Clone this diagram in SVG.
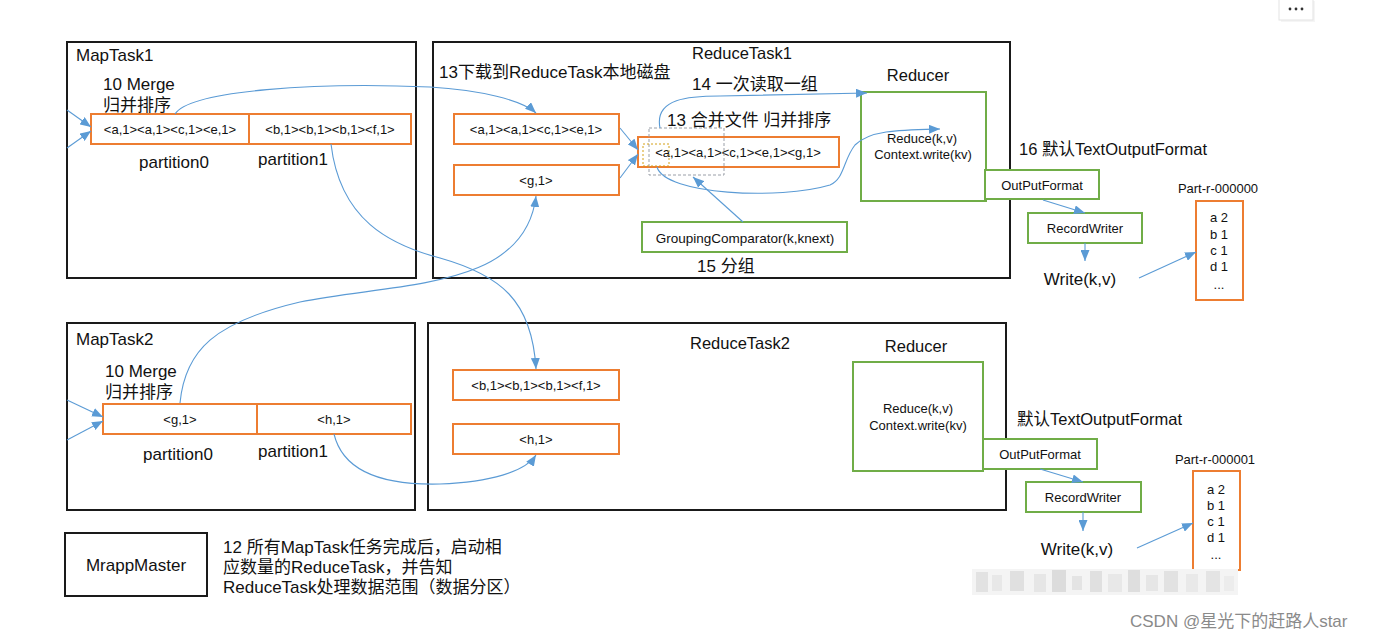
<svg xmlns="http://www.w3.org/2000/svg" width="1390" height="640" viewBox="0 0 1390 640">
<style>
.frame{fill:#fff;stroke:#1a1a1a;stroke-width:2}
.ob{fill:#fff;stroke:#ED7D31;stroke-width:2}
.gb{fill:#fff;stroke:#70AD47;stroke-width:2}
.ln{fill:none;stroke:#5B9BD5;stroke-width:1.1}
.t{font-family:"Liberation Sans","Noto Sans CJK SC",sans-serif;fill:#111}
.big{font-size:17px}
.mid{font-size:16.5px}
.sm{font-size:13px}
.c{text-anchor:middle}
</style>
<defs>
<marker id="ah" markerWidth="11" markerHeight="9" refX="11" refY="4.5" orient="auto" markerUnits="userSpaceOnUse"><path d="M0,0 L11,4.5 L0,9 z" fill="#5B9BD5"/></marker>
</defs>
<rect width="1390" height="640" fill="#fff"/>

<!-- top-right button -->
<g id="menu-button">
<rect x="1281" y="1" width="34" height="21" fill="#eee" opacity="0.6"/>
<rect x="1279" y="-1" width="34" height="21" fill="#fff" stroke="#e3e3e3"/>
<circle cx="1290" cy="9" r="1.4" fill="#333"/><circle cx="1296" cy="9" r="1.4" fill="#333"/><circle cx="1302" cy="9" r="1.4" fill="#333"/>
</g>

<!-- MapTask1 -->
<g id="maptask1">
<rect class="frame" x="67" y="42" width="349" height="236"/>
<text class="t big" x="76" y="61">MapTask1</text>
<text class="t big" x="103" y="90">10 Merge</text>
<text class="t big" x="103" y="111">归并排序</text>
<rect class="ob" x="91" y="114" width="158" height="30"/>
<rect class="ob" x="249" y="114" width="162" height="30"/>
<text class="t sm c" x="170" y="134">&lt;a,1&gt;&lt;a,1&gt;&lt;c,1&gt;&lt;e,1&gt;</text>
<text class="t sm c" x="330" y="134">&lt;b,1&gt;&lt;b,1&gt;&lt;b,1&gt;&lt;f,1&gt;</text>
<text class="t big" x="139" y="168">partition0</text>
<text class="t big" x="258" y="165">partition1</text>
</g>

<!-- ReduceTask1 -->
<g id="reducetask1">
<rect class="frame" x="433" y="42" width="577" height="236"/>
<text class="t mid c" x="742" y="59">ReduceTask1</text>
<text class="t big" x="439" y="78">13下载到ReduceTask本地磁盘</text>
<text class="t big" x="692" y="90">14 一次读取一组</text>
<text class="t big" x="667" y="126">13 合并文件 归并排序</text>
<rect class="ob" x="454" y="114" width="165" height="30"/>
<text class="t sm c" x="536" y="134">&lt;a,1&gt;&lt;a,1&gt;&lt;c,1&gt;&lt;e,1&gt;</text>
<rect class="ob" x="454" y="165" width="165" height="30"/>
<text class="t sm c" x="536" y="185">&lt;g,1&gt;</text>
<rect class="ob" x="638" y="137" width="201" height="30"/>
<text class="t sm c" x="738" y="157">&lt;a,1&gt;&lt;a,1&gt;&lt;c,1&gt;&lt;e,1&gt;&lt;g,1&gt;</text>
<rect x="649" y="128" width="75" height="47" fill="none" stroke="#9a9fa8" stroke-width="1" stroke-dasharray="3,2"/>
<rect x="643" y="144" width="26" height="22" fill="none" stroke="#D4A017" stroke-width="1" stroke-dasharray="2,2"/>
<rect class="gb" x="642" y="222" width="205" height="30"/>
<text class="t c" style="font-size:13.5px" x="745" y="243">GroupingComparator(k,knext)</text>
<text class="t big" x="697" y="272">15 分组</text>
</g>

<!-- Reducer 1 -->
<g id="reducer1">
<text class="t mid c" x="918" y="81">Reducer</text>
<rect class="gb" x="861" y="92" width="125" height="109"/>
<text class="t sm c" x="922" y="143">Reduce(k,v)</text>
<text class="t sm c" x="923" y="159">Context.write(kv)</text>
</g>

<!-- output 1 -->
<g id="output1">
<text class="t mid" x="1019" y="155">16 默认TextOutputFormat</text>
<rect class="gb" x="985" y="170" width="114" height="29"/>
<text class="t sm c" x="1042" y="190">OutPutFormat</text>
<rect class="gb" x="1028" y="213" width="114" height="30"/>
<text class="t sm c" x="1085" y="233">RecordWriter</text>
<text class="t big c" x="1080" y="285">Write(k,v)</text>
<text class="t sm c" x="1218" y="193">Part-r-000000</text>
<rect class="ob" x="1196" y="201" width="47" height="99"/>
<text class="t sm c" x="1219" y="222">a 2</text>
<text class="t sm c" x="1219" y="239">b 1</text>
<text class="t sm c" x="1219" y="255">c 1</text>
<text class="t sm c" x="1219" y="271">d 1</text>
<text class="t sm c" x="1219" y="289">...</text>
</g>

<!-- MapTask2 -->
<g id="maptask2">
<rect class="frame" x="67" y="323" width="348" height="187"/>
<text class="t big" x="76" y="345">MapTask2</text>
<text class="t big" x="105" y="377">10 Merge</text>
<text class="t big" x="105" y="398">归并排序</text>
<rect class="ob" x="103" y="404" width="154" height="30"/>
<rect class="ob" x="257" y="404" width="154" height="30"/>
<text class="t sm c" x="180" y="424">&lt;g,1&gt;</text>
<text class="t sm c" x="334" y="424">&lt;h,1&gt;</text>
<text class="t big" x="143" y="460">partition0</text>
<text class="t big" x="258" y="457">partition1</text>
</g>

<!-- ReduceTask2 -->
<g id="reducetask2">
<rect class="frame" x="428" y="323" width="578" height="187"/>
<text class="t mid c" x="740" y="349">ReduceTask2</text>
<rect class="ob" x="453" y="370" width="166" height="30"/>
<text class="t sm c" x="536" y="390">&lt;b,1&gt;&lt;b,1&gt;&lt;b,1&gt;&lt;f,1&gt;</text>
<rect class="ob" x="453" y="424" width="166" height="30"/>
<text class="t sm c" x="536" y="444">&lt;h,1&gt;</text>
</g>

<!-- Reducer 2 -->
<g id="reducer2">
<text class="t mid c" x="916" y="352">Reducer</text>
<rect class="gb" x="853" y="362" width="130" height="109"/>
<text class="t sm c" x="918" y="413">Reduce(k,v)</text>
<text class="t sm c" x="918" y="430">Context.write(kv)</text>
</g>

<!-- output 2 -->
<g id="output2">
<text class="t mid" x="1017" y="425">默认TextOutputFormat</text>
<rect class="gb" x="983" y="439" width="114" height="30"/>
<text class="t sm c" x="1040" y="459">OutPutFormat</text>
<rect class="gb" x="1026" y="482" width="115" height="30"/>
<text class="t sm c" x="1083" y="502">RecordWriter</text>
<text class="t big c" x="1077" y="555">Write(k,v)</text>
<text class="t sm c" x="1215" y="464">Part-r-000001</text>
<rect class="ob" x="1193" y="471" width="47" height="99"/>
<text class="t sm c" x="1216" y="494">a 2</text>
<text class="t sm c" x="1216" y="510">b 1</text>
<text class="t sm c" x="1216" y="526">c 1</text>
<text class="t sm c" x="1216" y="542">d 1</text>
<text class="t sm c" x="1216" y="559">...</text>
</g>

<!-- MrappMaster -->
<g id="mrappmaster">
<rect class="frame" x="65" y="533" width="142" height="63"/>
<text class="t big c" x="136" y="571">MrappMaster</text>
</g>
<g id="note">
<text class="t big" x="223" y="553">12 所有MapTask任务完成后，启动相</text>
<text class="t big" x="223" y="573">应数量的ReduceTask，并告知</text>
<text class="t big" x="223" y="593">ReduceTask处理数据范围（数据分区）</text>
</g>

<!-- connectors -->
<g id="connectors">
<path class="ln" marker-end="url(#ah)" d="M67,110 L91,127"/>
<path class="ln" marker-end="url(#ah)" d="M67,148 L91,131"/>
<path class="ln" marker-end="url(#ah)" d="M67,400 L103,417"/>
<path class="ln" marker-end="url(#ah)" d="M67,440 L103,421"/>
<path class="ln" marker-end="url(#ah)" d="M175,114 C190,90 320,82 430,87 C480,90 522,100 536,113"/>
<path class="ln" marker-end="url(#ah)" d="M331,144 C340,220 390,245 440,258 C500,275 532,300 536,369"/>
<path class="ln" marker-end="url(#ah)" d="M180,403 C185,350 215,322 300,302 C400,282 525,290 536,196"/>
<path class="ln" marker-end="url(#ah)" d="M334,434 C345,480 400,485 440,484 C490,482 525,472 536,455"/>
<path class="ln" marker-end="url(#ah)" d="M620,128 L638,150"/>
<path class="ln" marker-end="url(#ah)" d="M620,178 L638,154"/>
<path class="ln" marker-end="url(#ah)" d="M743,222 L693,177"/>
<path class="ln" marker-end="url(#ah)" d="M660,128 C654,98 690,96 720,96 L867,93"/>
<path class="ln" marker-end="url(#ah)" d="M657,167 C665,195 780,200 830,185 C845,178 843,160 855,145 C870,130 900,130 940,129"/>
<path class="ln" marker-end="url(#ah)" d="M1043,200 L1085,213"/>
<path class="ln" marker-end="url(#ah)" d="M1085,243 L1085,261"/>
<path class="ln" marker-end="url(#ah)" d="M1139,278 L1196,252"/>
<path class="ln" marker-end="url(#ah)" d="M1040,469 L1083,482"/>
<path class="ln" marker-end="url(#ah)" d="M1083,512 L1083,531"/>
<path class="ln" marker-end="url(#ah)" d="M1137,548 L1193,523"/>
</g>

<!-- blurred watermark mosaic -->
<g id="mosaic">
<rect x="972" y="569" width="266" height="26" fill="#f4f4f4"/>
<rect x="976" y="572" width="12" height="20" fill="#e2e2e2"/>
<rect x="992" y="575" width="10" height="16" fill="#e8e8e8"/>
<rect x="1010" y="571" width="14" height="20" fill="#e0e0e0"/>
<rect x="1034" y="574" width="12" height="18" fill="#e6e6e6"/>
<rect x="1052" y="570" width="14" height="22" fill="#dcdcdc"/>
<rect x="1072" y="576" width="10" height="14" fill="#e4e4e4"/>
<rect x="1090" y="571" width="12" height="21" fill="#e0e0e0"/>
<rect x="1108" y="574" width="14" height="18" fill="#e8e8e8"/>
<rect x="1128" y="570" width="12" height="22" fill="#dedede"/>
<rect x="1146" y="575" width="12" height="16" fill="#e6e6e6"/>
<rect x="1164" y="571" width="14" height="21" fill="#e2e2e2"/>
<rect x="1186" y="574" width="12" height="18" fill="#e9e9e9"/>
<rect x="1206" y="571" width="14" height="21" fill="#e4e4e4"/>
<rect x="1224" y="576" width="10" height="15" fill="#ececec"/>
</g>
<text class="t" style="font-size:17px;fill:#8a8a8a" x="1130" y="627">CSDN @星光下的赶路人star</text>
</svg>
